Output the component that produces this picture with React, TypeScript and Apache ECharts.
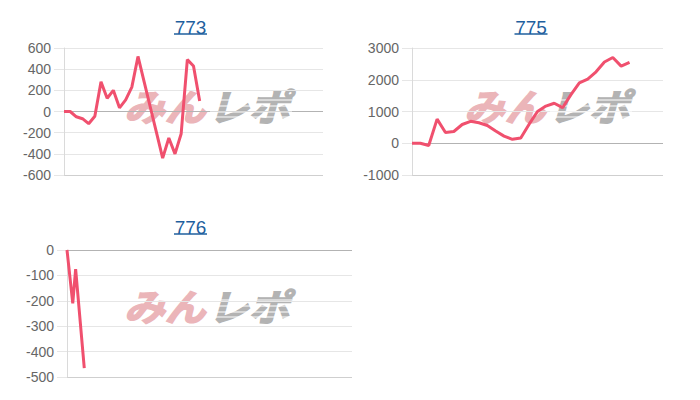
import React, { useEffect, useRef } from "react";
import * as echarts from "echarts";

// categories (days on the hidden x axis)
const days773 = Array.from({ length: 43 }, (_, i) => `${i + 1}`);
const days775 = Array.from({ length: 31 }, (_, i) => `${i + 1}`);
const days776 = Array.from({ length: 100 }, (_, i) => `${i + 1}`);

// series values
const diff773 = [0, 0, -50, -68, -115, -45, 280, 125, 200, 35, 110, 230, 520, 280, 40, -200, -440, -250, -400, -210, 490, 430, 100];
const diff775 = [0, 0, -70, 760, 340, 370, 590, 690, 645, 560, 385, 225, 125, 165, 600, 1000, 1170, 1260, 1120, 1530, 1900, 2020, 2250, 2560, 2700, 2430, 2550];
const diff776 = [0, -105, -210, -75, -205, -335, -465];

// titles and y axis ticks [min, max, interval]
const titles = ["773", "775", "776"];
const yTicks773 = [-600, 600, 200];
const yTicks775 = [-1000, 3000, 1000];
const yTicks776 = [-500, 0, 100];

const LINE = "#f0506e";
const LIGHT = "#e6e6e6";
const ZERO = "#b3b3b3";
const BOTTOM = "#cfcfcf";
const TITLE = "#1f5f9e";
const FONT = "'Liberation Sans', Arial, sans-serif";

function yAxis(ticks: number[], gridIndex: number, colors: string[]) {
  return {
    type: "value",
    gridIndex,
    min: ticks[0],
    max: ticks[1],
    interval: ticks[2],
    axisLine: { show: true, lineStyle: { color: "#dadada", width: 1 } },
    axisTick: { show: true, length: 10, lineStyle: { color: LIGHT } },
    axisLabel: {
      color: "#666",
      fontSize: 14,
      fontFamily: FONT,
      margin: 13,
      formatter: (v: number) => String(v),
    },
    splitLine: { show: true, lineStyle: { color: colors, width: 1 } },
  };
}

function xAxis(data: string[], gridIndex: number) {
  return {
    type: "category",
    gridIndex,
    data,
    boundaryGap: false,
    axisLine: { show: false },
    axisTick: { show: false },
    axisLabel: { show: false },
    splitLine: { show: false },
  };
}

function watermark(x: number, y: number) {
  const stripes = [-5, 1, 7, 12].map((dy) => ({
    type: "line",
    z: 1,
    shape: { x1: x + 86, y1: y + dy, x2: x + 168, y2: y + dy },
    style: { stroke: "#ffffff", lineWidth: 1.2 },
  }));
  return [
    {
      type: "text",
      x,
      y,
      scaleX: 1.1,
      z: 0,
      style: {
        text: "みん",
        font: "italic bold 37px 'Noto Sans CJK JP'",
        fill: "#ebb5b9",
        stroke: "#ebb5b9",
        lineWidth: 1.5,
        textVerticalAlign: "middle",
      },
    },
    {
      type: "text",
      x: x + 84,
      y,
      scaleX: 1.1,
      z: 0,
      style: {
        text: "レポ",
        font: "italic bold 37px 'Noto Sans CJK JP'",
        fill: "#b3b3b3",
        stroke: "#b3b3b3",
        lineWidth: 1.5,
        textVerticalAlign: "middle",
      },
    },
    ...stripes,
  ];
}

function title(text: string, cx: number, y: number) {
  return [
    {
      type: "text",
      x: cx,
      y,
      z: 10,
      style: {
        text,
        font: `19px ${FONT}`,
        fill: TITLE,
        textAlign: "center",
        textVerticalAlign: "middle",
      },
    },
    {
      type: "line",
      z: 10,
      shape: { x1: cx - 16.5, y1: y + 7, x2: cx + 16.5, y2: y + 7 },
      style: { stroke: TITLE, lineWidth: 1.5 },
    },
  ];
}

export default function App() {
  const ref = useRef<HTMLDivElement>(null);
  useEffect(() => {
    if (!ref.current) return;
    const chart = echarts.init(ref.current, undefined, { renderer: "svg" });
    const lineSeries = (data: number[], i: number) => ({
      type: "line",
      xAxisIndex: i,
      yAxisIndex: i,
      data,
      showSymbol: false,
      symbol: "none",
      z: 5,
      lineStyle: { color: LINE, width: 3 },
      itemStyle: { color: LINE },
    });
    chart.setOption({
      animation: false,
      backgroundColor: "#ffffff",
      grid: [
        { left: 64, top: 48, width: 259, height: 127 },
        { left: 412, top: 48, width: 251, height: 127 },
        { left: 67, top: 250, width: 285, height: 127 },
      ],
      xAxis: [xAxis(days773, 0), xAxis(days775, 1), xAxis(days776, 2)],
      yAxis: [
        yAxis(yTicks773, 0, [BOTTOM, LIGHT, LIGHT, ZERO, LIGHT, LIGHT, LIGHT]),
        yAxis(yTicks775, 1, [BOTTOM, ZERO, LIGHT, LIGHT, LIGHT]),
        yAxis(yTicks776, 2, [BOTTOM, LIGHT, LIGHT, LIGHT, LIGHT, ZERO]),
      ],
      series: [lineSeries(diff773, 0), lineSeries(diff775, 1), lineSeries(diff776, 2)],
      graphic: [
        ...watermark(124, 105),
        ...watermark(464, 105),
        ...watermark(124, 305),
        ...title(titles[0], 190.5, 27),
        ...title(titles[1], 531, 27),
        ...title(titles[2], 190.5, 227),
      ],
    });
    return () => chart.dispose();
  }, []);
  return (
    <div
      ref={ref}
      style={{ position: "absolute", left: 0, top: 0, width: 700, height: 400 }}
    />
  );
}
